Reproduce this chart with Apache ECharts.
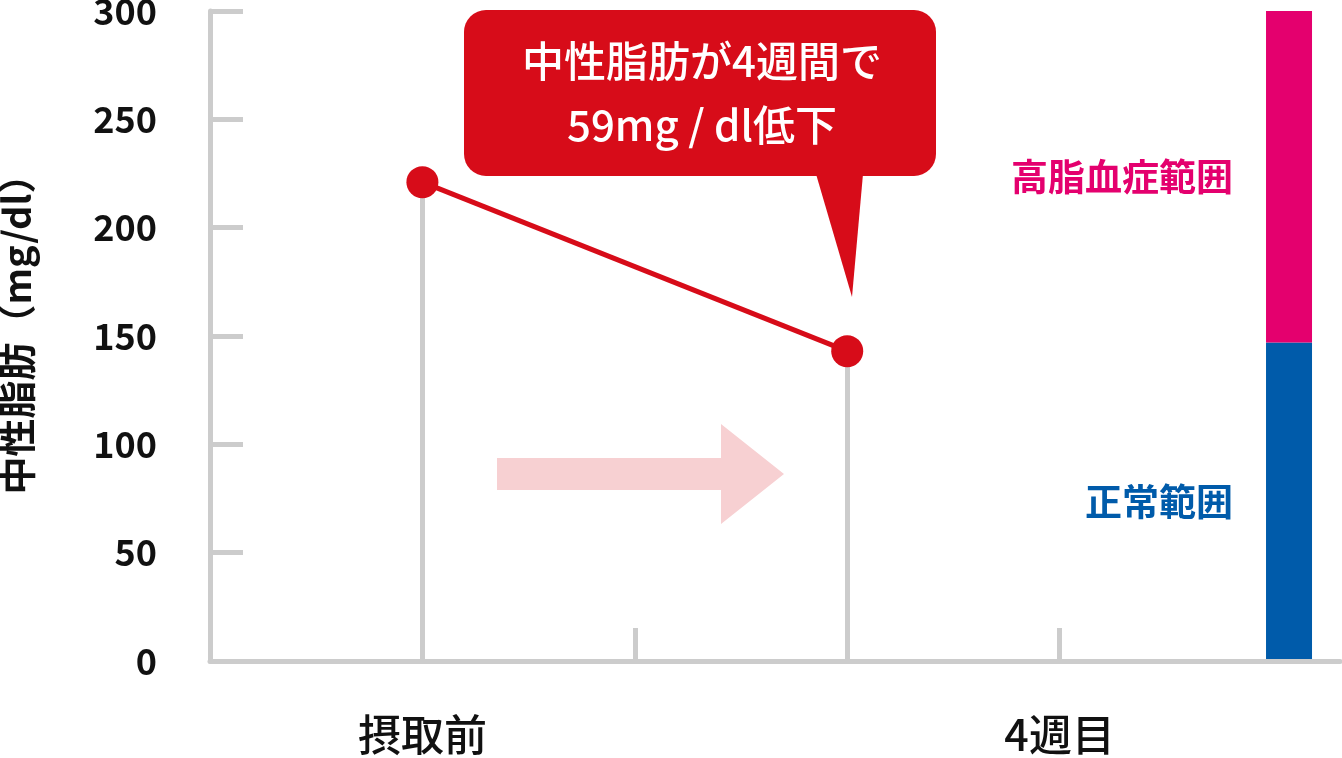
<!DOCTYPE html>
<html><head><meta charset="utf-8">
<script src="https://cdn.jsdelivr.net/npm/echarts@6/dist/echarts.min.js"></script>
<style>html,body{margin:0;padding:0;background:#fff}#c{width:1342px;height:758px}</style>
</head><body><div id="c"></div>
<script>
// ---- data ----
const yTicks = [0, 50, 100, 150, 200, 250, 300];
const xTickLabels = ['', '摂取前', '', '', '4週目'];
const pointX = [1, 3];
const triglyceride = [221, 143];
const rangeNames = ['正常範囲', '高脂血症範囲'];
const rangeBounds = [0, 147, 300];
const calloutLines = ['中性脂肪が4週間で', '59mg / dl低下'];
const yAxisName = '中性脂肪（mg/dl）';

// ---- styles ----
const FONT = '"Noto Sans CJK JP", "Noto Sans", sans-serif';
const FONT_MED = '"Noto Sans CJK JP Medium", "Noto Sans CJK JP", "Noto Sans", sans-serif';
const RED = '#d70c19';
const GRAY = '#cccccc';
const BLUE = '#005baa';
const PINK = '#e4006e';
const TEXT = '#111111';
const rangeColors = [BLUE, PINK];
const RANGE_X = 5.08;

const chart = echarts.init(document.getElementById('c'), null, {renderer: 'canvas'});
chart.setOption({
  animation: false,
  textStyle: {fontFamily: FONT},
  grid: {left: 210, right: 2, top: 11, bottom: 97, containLabel: false, outerBoundsMode: 'none'},
  xAxis: {
    type: 'value', min: 0, max: 5.32, interval: 1, z: 3,
    axisLine: {show: true, lineStyle: {color: GRAY, width: 5}},
    axisTick: {show: true, inside: true, length: 33, customValues: [2, 4], lineStyle: {color: GRAY, width: 5}},
    axisLabel: {
      customValues: [1, 4],
      formatter: v => xTickLabels[Math.round(v)] || '',
      fontSize: 43, color: TEXT, margin: 52, fontFamily: FONT_MED, fontWeight: 500
    },
    splitLine: {show: false}
  },
  yAxis: {
    type: 'value', min: yTicks[0], max: yTicks[yTicks.length - 1], interval: yTicks[1] - yTicks[0],
    name: yAxisName, nameLocation: 'middle', nameRotate: 90, nameGap: 174,
    nameTextStyle: {fontSize: 38, color: TEXT, fontFamily: FONT, fontWeight: 'bold', padding: [0, 0, 0, 22]},
    axisLine: {show: true, lineStyle: {color: GRAY, width: 5}},
    axisTick: {show: true, inside: true, length: 33, lineStyle: {color: GRAY, width: 5}},
    axisLabel: {fontSize: 36, color: TEXT, margin: 53, fontFamily: FONT, fontWeight: 'bold', padding: [8, 0, 0, 0]},
    splitLine: {show: false}
  },
  series: [
    {
      type: 'line', z: 5, silent: true,
      data: pointX.map((x, i) => [x, triglyceride[i]]),
      symbol: 'circle', symbolSize: 32,
      itemStyle: {color: RED},
      lineStyle: {color: RED, width: 5},
      markLine: {
        silent: true, symbol: 'none', z: 1, animation: false,
        label: {show: false},
        lineStyle: {color: GRAY, width: 5, type: 'solid'},
        emphasis: {disabled: true},
        data: pointX.map((x, i) => [{coord: [x, 0]}, {coord: [x, triglyceride[i]]}])
      }
    },
    {
      type: 'custom', z: 2, silent: true,
      encode: {x: 0, y: [1, 2]},
      data: rangeNames.map((n, i) => [RANGE_X, rangeBounds[i], rangeBounds[i + 1]]),
      renderItem: (params, api) => {
        const x = api.value(0), lo = api.value(1), hi = api.value(2);
        const top = api.coord([x, hi]);
        const bot = api.coord([x, lo]);
        const color = rangeColors[params.dataIndex];
        return {
          type: 'group',
          children: [
            {type: 'rect', shape: {x: top[0] - 23, y: top[1], width: 46, height: bot[1] - top[1]}, style: {fill: color}},
            {type: 'text', x: top[0] - 23 - 33, y: (top[1] + bot[1]) / 2,
              style: {text: rangeNames[params.dataIndex], fill: color, fontSize: 37, fontFamily: FONT, fontWeight: 'bold', align: 'right', verticalAlign: 'middle'}}
          ]
        };
      }
    }
  ],
  graphic: [
    {
      type: 'polygon', z: 1, silent: true,
      shape: {points: [[497, 458], [721, 458], [721, 424], [784, 474], [721, 524], [721, 490], [497, 490]]},
      style: {fill: '#f7d0d2'}
    },
    {
      type: 'rect', z: 10, silent: true,
      shape: {x: 464, y: 10, width: 472, height: 166, r: 22},
      style: {fill: RED}
    },
    {
      type: 'polygon', z: 10, silent: true,
      shape: {points: [[816, 174], [863, 174], [852, 297]]},
      style: {fill: RED}
    },
    {
      type: 'text', z: 11, silent: true, x: 702, y: 61,
      style: {text: calloutLines[0], fill: '#fff', fontSize: 42, fontFamily: FONT_MED, fontWeight: 500, align: 'center', verticalAlign: 'middle'}
    },
    {
      type: 'text', z: 11, silent: true, x: 702, y: 125,
      style: {text: calloutLines[1], fill: '#fff', fontSize: 42, fontFamily: FONT_MED, fontWeight: 500, align: 'center', verticalAlign: 'middle'}
    }
  ]
});
</script>
</body></html>
